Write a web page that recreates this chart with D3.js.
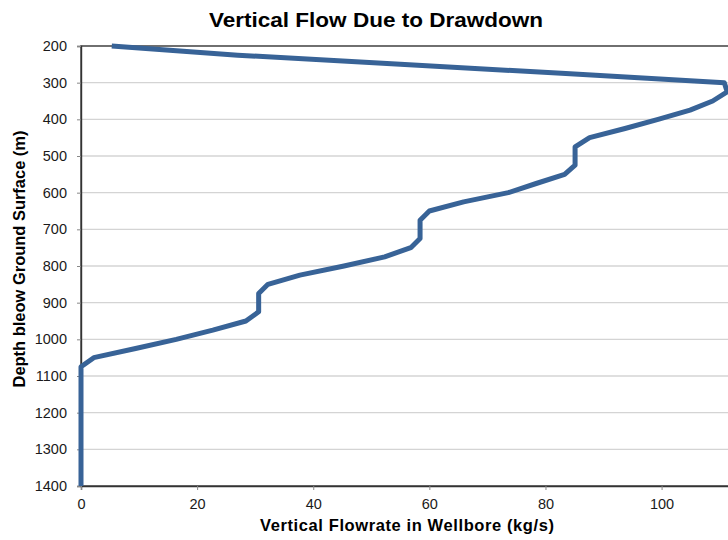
<!DOCTYPE html>
<html>
<head>
<meta charset="utf-8">
<script src="https://cdn.jsdelivr.net/npm/d3@7/dist/d3.min.js"></script>
<style>
  html, body { margin: 0; padding: 0; background: #fff; }
  svg { display: block; font-family: "Liberation Sans", Arial, sans-serif; }
</style>
</head>
<body>
<svg id="chart" width="728" height="540"></svg>
<script>
// Depth below ground surface (m) and the vertical flowrate in the wellbore at each depth (kg/s)
const depths = [200, 225, 250, 275, 300, 325, 350, 375, 400, 425, 450, 475, 500, 525, 550, 575,
  600, 625, 650, 675, 700, 725, 750, 775, 800, 825, 850, 875, 900, 925, 950, 975, 1000, 1025,
  1050, 1075, 1100, 1125, 1150, 1175, 1200, 1225, 1250, 1275, 1300, 1325, 1350, 1375, 1400];
const flowrates = [5.3, 27.0, 55.0, 83.5, 110.8, 111.3, 108.8, 104.9, 99.4, 93.7, 87.6, 85.1, 85.1, 85.1, 83.3, 78.4,
  73.6, 65.9, 60.0, 58.4, 58.4, 58.4, 56.8, 52.3, 45.3, 37.7, 32.2, 30.6, 30.6, 30.6, 28.4, 22.7, 16.4, 9.4,
  2.2, 0, 0, 0, 0, 0, 0, 0, 0, 0, 0, 0, 0, 0, 0];

const yTicks = [200, 300, 400, 500, 600, 700, 800, 900, 1000, 1100, 1200, 1300, 1400];
const xTicks = [0, 20, 40, 60, 80, 100];

const titleText = "Vertical Flow Due to Drawdown";
const xTitle = "Vertical Flowrate in Wellbore (kg/s)";
const yTitle = "Depth bleow Ground Surface (m)";

const svg = d3.select("#chart");
const plotLeft = 81, plotTop = 46, plotBottom = 486, plotRight = 733;

const x = d3.scaleLinear().domain([0, 112.3]).range([plotLeft, plotRight]);
const y = d3.scaleLinear().domain([200, 1400]).range([plotTop, plotBottom]);

// horizontal gridlines
svg.append("g")
  .selectAll("line")
  .data(yTicks)
  .join("line")
  .attr("x1", plotLeft).attr("x2", plotRight)
  .attr("y1", d => y(d)).attr("y2", d => y(d))
  .attr("stroke", "#d4d4d4")
  .attr("stroke-width", 1.4);

// plot area frame
svg.append("rect")
  .attr("x", plotLeft).attr("y", plotTop)
  .attr("width", plotRight - plotLeft).attr("height", plotBottom - plotTop)
  .attr("fill", "none")
  .attr("stroke", "#404040")
  .attr("stroke-width", 1.4);

// y axis
const yAxis = svg.append("g")
  .attr("transform", `translate(${plotLeft},0)`)
  .call(d3.axisLeft(y).tickValues(yTicks).tickSize(4).tickPadding(10).tickFormat(d3.format("d")));
yAxis.select(".domain").attr("stroke", "#333").attr("stroke-width", 1.4);
yAxis.selectAll(".tick line").attr("stroke", "#888");
yAxis.selectAll("text")
  .attr("font-size", 14.5)
  .attr("fill", "#1a1a1a")
  .attr("font-family", "Liberation Sans, Arial, sans-serif");

// x axis
const xAxis = svg.append("g")
  .attr("transform", `translate(0,${plotBottom})`)
  .call(d3.axisBottom(x).tickValues(xTicks).tickSize(4).tickPadding(9).tickFormat(d3.format("d")));
xAxis.select(".domain").attr("stroke", "#333").attr("stroke-width", 1.4);
xAxis.selectAll(".tick line").attr("stroke", "#888");
xAxis.selectAll("text")
  .attr("font-size", 14.5)
  .attr("fill", "#1a1a1a")
  .attr("font-family", "Liberation Sans, Arial, sans-serif");

// flowrate profile
const points = depths.map((d, i) => [flowrates[i], d]);
svg.append("path")
  .datum(points)
  .attr("fill", "none")
  .attr("stroke", "#386397")
  .attr("stroke-width", 5)
  .attr("stroke-linejoin", "round")
  .attr("stroke-linecap", "butt")
  .attr("d", d3.line().x(p => x(p[0])).y(p => y(p[1])));

// titles
svg.append("text")
  .attr("x", 376).attr("y", 27)
  .attr("text-anchor", "middle")
  .attr("font-size", 21)
  .attr("font-weight", "bold")
  .attr("fill", "#000")
  .attr("textLength", 334)
  .attr("lengthAdjust", "spacingAndGlyphs")
  .text(titleText);

svg.append("text")
  .attr("x", 407).attr("y", 531)
  .attr("text-anchor", "middle")
  .attr("font-size", 16.5)
  .attr("font-weight", "bold")
  .attr("fill", "#000")
  .attr("textLength", 294)
  .attr("lengthAdjust", "spacing")
  .text(xTitle);

svg.append("text")
  .attr("transform", "translate(25,259) rotate(-90)")
  .attr("text-anchor", "middle")
  .attr("font-size", 16.5)
  .attr("font-weight", "bold")
  .attr("fill", "#000")
  .attr("textLength", 257)
  .attr("lengthAdjust", "spacing")
  .text(yTitle);
</script>
</body>
</html>
